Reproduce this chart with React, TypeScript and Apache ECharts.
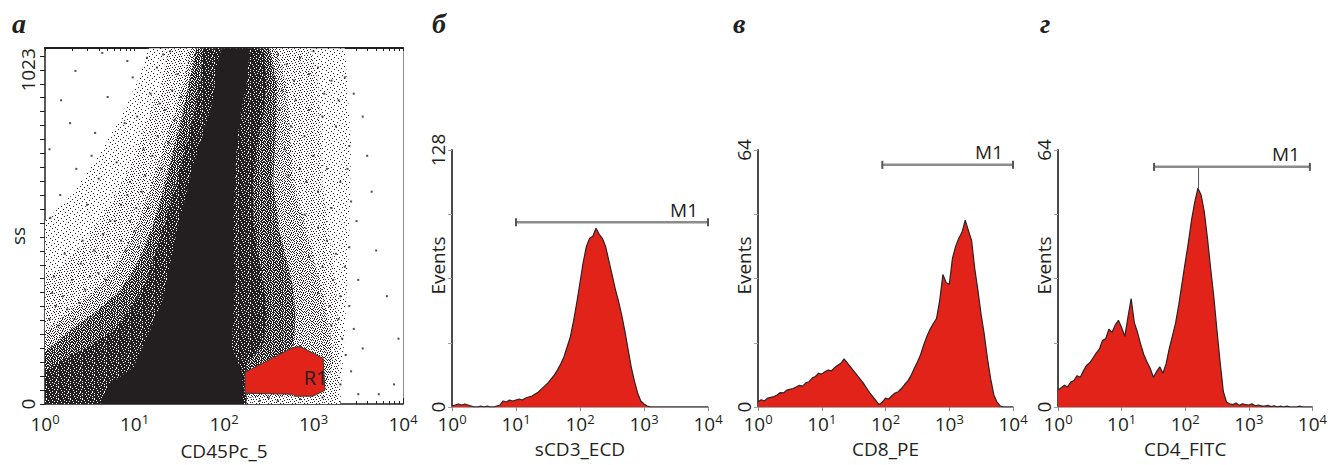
import { useEffect, useRef } from "react";
import * as echarts from "echarts";

const FONT = '"Open Sans", "Noto Sans", "DejaVu Sans", sans-serif';
const SERIF = '"Liberation Serif", "DejaVu Serif", serif';
const INK = "#231f20";
const RED = "#e2231a";
const TEXT_SIZE = 19;

// ---- axes / ticks ----
const DECADES = [0, 1, 2, 3, 4];
const MINOR_MULTIPLES = [2, 3, 4, 5, 6, 7, 8, 9];
const SS_LABELS = [0, 1023];
const SS_TICK_STEP = 1023 / 24;
const SS_TICK_COUNT = 26;
const CD3_Y_LABELS = [0, 128];
const CD8_Y_LABELS = [0, 64];
const CD4_Y_LABELS = [0, 64];

// ---- histograms: counts per bin, bins at log10 = 0.00, 0.05 ... 4.00 ----
const BIN_STEP = 0.05;
const CD3_COUNTS = [
  0.5, 1, 1.5, 1, 1.5, 1, 0.5, 0, 0, 0.5,
  0, 0.5, 0, 0, 0.5, 1, 3, 2.5, 3.5, 3,
  3.5, 4, 3.5, 4.5, 5, 5.5, 6.5, 7.5, 9, 10.5,
  12, 14, 16, 18.5, 21.5, 25, 30, 35, 43, 52,
  62, 72, 80, 84, 85, 89, 86, 84, 80, 73,
  66, 59, 53, 46, 38, 29, 20, 13, 7, 3,
  1.5, 0.5, 0, 0, 0, 0, 0, 0, 0, 0,
  0, 0, 0, 0, 0, 0, 0, 0, 0, 0, 0,
];
const CD8_COUNTS = [
  1.3, 1.8, 1.5, 2.2, 2.4, 2.6, 3.0, 3.6, 3.5, 4.2,
  4.4, 4.6, 5.0, 5.4, 5.2, 6.0, 6.3, 7.2, 7.6, 8.4,
  8.2, 8.8, 9.2, 9.0, 9.8, 10.4, 10.9, 12.0, 11.0, 10.0,
  9.0, 8.0, 7.0, 6.0, 4.8, 3.6, 2.6, 1.6, 0.6, 1.2,
  2.2, 2.0, 2.8, 3.5, 3.8, 4.6, 5.6, 6.5, 7.8, 9.6,
  11.2, 13.0, 15.5, 17.6, 19.4, 20.8, 22.0, 26.5, 33.0, 31.0,
  30.5, 37.0, 40.0, 42.0, 43.5, 46.5, 44.0, 41.5, 34.5, 29.0,
  23.0, 18.0, 12.0, 7.0, 3.0, 1.2, 0.2, 0, 0, 0, 0,
];
const CD4_COUNTS = [
  4.2, 4.8, 5.4, 5.0, 6.2, 6.6, 7.8, 7.4, 9.0, 10.4,
  11.0, 12.2, 13.4, 14.4, 16.6, 17.0, 19.4, 18.6, 20.4, 21.6,
  19.8, 17.6, 22.4, 27.0, 21.0, 18.6, 15.6, 13.0, 11.2, 9.6,
  7.4, 8.8, 10.0, 8.4, 10.8, 14.6, 17.8, 21.0, 25.6, 30.8,
  36.0, 41.0, 46.6, 51.0, 54.5, 52.8, 48.6, 42.0, 34.5, 27.4,
  19.0, 11.0, 3.8, 1.2, 0.8, 0.6, 1.0, 0.4, 0.8, 0.6,
  0.5, 0.8, 0.3, 0.5, 0.3, 0.2, 0.4, 0.1, 0.3, 0,
  0.2, 0, 0.2, 0, 0, 0, 0.2, 0, 0, 0, 0,
];
const CD4_SPIKE = [[2.21, 54.5], [2.21, 59.8]];

// M1 markers: [from log10, to log10, level]
const M1_CD3 = [1.0, 4.0, 92];
const M1_CD8 = [1.95, 4.0, 60.3];
const M1_CD4 = [1.51, 3.96, 59.8];

// ---- scatter panel (x: log10 CD45, y: SS channel), density contours ----
const CLOUD_HALO = [
  [0, 0], [0, 560], [0.3, 640], [0.6, 760], [0.85, 880], [1.05, 1000], [1.15, 1089],
  [3.35, 1089], [3.42, 800], [3.4, 500], [3.35, 224], [3.3, 0],
];
const CLOUD_LIGHT = [
  [0, 0], [0, 390], [0.27, 440], [0.5, 520], [0.75, 620], [0.95, 730], [1.12, 850],
  [1.27, 960], [1.38, 1089], [2.97, 1089], [3.05, 983], [3.08, 831], [3.1, 679],
  [3.17, 527], [3.25, 375], [3.28, 224], [3.3, 123], [3.25, 0],
];
const CLOUD_MEDIUM = [
  [0, 0], [0, 224], [0.242, 274], [0.54, 345], [0.8, 426], [0.987, 527],
  [1.136, 628], [1.285, 750], [1.434, 881], [1.546, 983], [1.62, 1089],
  [2.588, 1089], [2.7, 983], [2.737, 831], [2.775, 679], [2.924, 527],
  [3.073, 375], [3.184, 224], [3.22, 123], [3.13, 42], [2.8, 24], [2.24, 20], [2.22, 0],
];
const CLOUD_MEDDENSE = [
  [0, 0], [0, 160], [0.3, 230], [0.6, 290], [0.85, 350], [1.03, 430], [1.17, 520],
  [1.3, 630], [1.41, 750], [1.52, 870], [1.61, 983], [1.69, 1089],
  [2.51, 1089], [2.59, 983], [2.58, 831], [2.55, 679], [2.62, 527], [2.76, 375],
  [2.8, 274], [2.78, 183], [2.6, 123], [2.25, 100], [2.25, 0],
];
const CLOUD_DENSE = [
  [0, 0], [0, 102], [0.242, 143], [0.54, 183], [0.8, 234], [0.987, 305],
  [1.136, 375], [1.248, 477], [1.359, 578], [1.471, 679], [1.564, 780],
  [1.657, 881], [1.732, 983], [1.769, 1089], [2.44, 1089], [2.477, 983],
  [2.44, 881], [2.365, 780], [2.328, 679], [2.328, 578], [2.365, 477],
  [2.44, 375], [2.477, 274], [2.44, 183], [2.253, 123], [2.253, 0],
];
const CLOUD_CORE = [
  [0.615, 0], [0.726, 62], [0.987, 112], [1.173, 224], [1.322, 325],
  [1.397, 426], [1.471, 527], [1.564, 628], [1.657, 730], [1.769, 831],
  [1.881, 932], [1.918, 1033], [1.974, 1089], [2.29, 1089], [2.253, 983],
  [2.179, 881], [2.141, 780], [2.123, 679], [2.104, 578], [2.104, 477],
  [2.123, 375], [2.104, 274], [2.086, 173], [2.197, 102], [2.216, 41], [2.2, 0],
];
const SPARSE_EVENTS = [
  [0.34, 1020], [0.92, 1050], [0.98, 1000], [0.7, 940], [0.28, 860], [0.56, 830],
  [0.89, 860], [0.8, 740], [0.35, 720], [0.6, 690], [0.17, 640], [0.06, 570],
  [0.47, 610], [1.03, 880], [1.18, 950], [1.25, 1030], [1.32, 1070], [1.1, 780],
  [0.73, 560], [0.42, 500], [0.22, 460], [0.1, 390], [1.4, 1080], [1.14, 1060],
  [0.64, 1075], [1.28, 920], [0.95, 680], [0.52, 760], [0.18, 930], [0.05, 780],
  [0.4, 430], [0.55, 470], [0.65, 520], [0.78, 560], [0.85, 610], [0.92, 640],
  [0.3, 380], [0.2, 330], [0.12, 300], [0.45, 350], [0.6, 400], [0.7, 450],
  [0.95, 560], [1.02, 600], [1.08, 650], [1.12, 700], [1.2, 760], [1.26, 820],
  [1.34, 900], [1.42, 960], [1.48, 1010], [0.05, 260], [0.25, 290], [0.38, 310],
  [0.5, 390], [0.85, 500], [1.0, 530], [1.15, 600], [1.3, 720], [1.38, 800],
  [1.45, 870], [1.52, 940], [0.68, 380], [0.33, 260], [0.15, 240], [0.08, 340],
  [0.9, 470], [1.05, 480],
  [2.6, 1070], [2.7, 1040], [2.85, 1060], [2.95, 1010], [3.05, 1030], [3.2, 990],
  [3.35, 1000], [2.65, 960], [2.8, 930], [2.95, 900], [3.1, 880], [3.25, 850],
  [3.4, 790], [2.75, 850], [2.9, 820], [3.0, 760], [3.15, 720], [3.3, 680],
  [2.68, 780], [2.85, 720], [3.05, 650], [3.2, 600], [3.42, 620], [2.62, 900],
  [2.78, 990], [3.12, 950], [3.28, 930], [2.92, 680], [3.38, 720], [2.72, 700],
  [3.48, 560], [3.55, 880], [2.55, 1000], [3.0, 1080], [3.45, 950],
  [2.9, 580], [3.05, 540], [3.15, 500], [3.25, 460], [3.35, 420], [2.95, 450],
  [3.1, 420], [3.22, 380], [3.3, 330], [3.4, 300], [3.05, 340], [3.18, 300],
  [3.28, 260], [3.32, 200], [3.45, 230], [3.36, 150], [3.42, 100], [3.3, 60],
  [3.1, 20], [2.85, 15], [2.6, 10], [3.5, 30], [3.4, 480], [3.5, 380],
  [3.55, 170], [2.5, 18], [2.4, 10], [3.2, 240],
  [3.65, 650], [3.82, 330], [3.73, 30], [3.9, 60], [3.95, 200], [3.6, 760], [3.7, 470],
];
const GATE_R1 = [
  [2.235, 97], [2.771, 173], [2.849, 176], [3.106, 140], [3.128, 42],
  [2.994, 24], [2.793, 24], [2.771, 30], [2.235, 33],
];
const GATE_LABEL = { text: "R1", at: [2.89, 82] };

// stipple textures used to shade the density layers ('#' = event pixel)
const TILE_DENSE = [
  "##.#####.###", "#####.######", "###.####.#.#", "##########.#",
  ".###.#######", "######.##.##", "#.##########", "####.###.###",
  "##.#####.###", "#######.##.#", "#.##.#######", "######.###.#",
];
const TILE_MEDDENSE = [
  "##.##.#.###.", ".####.##.#.#", "#.#.###.##.#", "##.##.#.#.##",
  ".##.####.##.", "#.###.#.##.#", "##.#.###.###", ".###.#.##.#.",
  "#.#.###.###.", "##.##.##.#.#", ".#.###.#.###", "#.##.###.#.#",
];
const TILE_MEDIUM = [
  "#..#.#..#...", ".#....#..#.#", "..#.#...#...", "#.....#.#.#.",
  ".#.#.#.....#", "...#...#.#..", "#.#..#....#.", "..#.#..#.#..",
  ".#....#...#.", "#..#.#..#..#", ".#.....#.#..", "..#.#.#....#",
];
const TILE_LIGHTMED = [
  "#.....#.....", "...#......#.", ".......#....", ".#..#......#",
  "........#...", "..#...#.....", "#.........#.", "....#..#....",
  ".#.........#", "......#..#..", "..#.........", ".....#..#..#",
];
const TILE_LIGHT = [
  "....#.......", ".........#..", ".#..........", "......#.....",
  "..........#.", "...#........", "........#...", "#...........",
  ".....#......", "..........#.", "..#.........", ".......#....",
];

// ---------------------------------------------------------------------------
const ssTicks = Array.from({ length: SS_TICK_COUNT }, (_, k) => k * SS_TICK_STEP);
const minorTicks: number[] = [];
DECADES.slice(0, -1).forEach((d) => MINOR_MULTIPLES.forEach((m) => minorTicks.push(d + Math.log10(m))));

const binned = (counts: number[]) => counts.map((c, i) => [+(i * BIN_STEP).toFixed(2), c]);

function stipple(rows: string[], fallback: string): any {
  try {
    const c = document.createElement("canvas");
    c.width = rows[0].length;
    c.height = rows.length;
    const ctx = c.getContext("2d");
    if (!ctx) return fallback;
    ctx.fillStyle = "#ffffff";
    ctx.fillRect(0, 0, c.width, c.height);
    ctx.fillStyle = INK;
    rows.forEach((r, y) => r.split("").forEach((ch, x) => { if (ch === "#") ctx.fillRect(x, y, 1, 1); }));
    return { image: c.toDataURL("image/png"), repeat: "repeat", imageWidth: c.width, imageHeight: c.height };
  } catch (e) {
    return fallback;
  }
}

const supRich = {
  b: { fontSize: TEXT_SIZE, lineHeight: 24, fontFamily: FONT, color: INK },
  sup: { fontSize: 13, lineHeight: 13, verticalAlign: "top", fontFamily: FONT, color: INK },
};
const decadeLabel = (margin: number) => ({
  show: true,
  margin,
  formatter: (v: number) => `{b|10}{sup|${Math.round(v)}}`,
  rich: supRich,
});
const nameStyle = { fontFamily: FONT, fontSize: TEXT_SIZE, color: INK };
const plainLabel = (v: number) => String(v);

function histX(gridIndex: number, name: string) {
  return {
    type: "value", gridIndex, min: 0, max: 4, interval: 1, position: "bottom",
    axisLine: { show: true, onZero: false, lineStyle: { color: "#8a8a8a", width: 1.5 } },
    axisTick: { show: true, length: 4, lineStyle: { color: "#8a8a8a", width: 1 } },
    axisLabel: decadeLabel(5),
    splitLine: { show: false },
    name, nameLocation: "middle", nameGap: 32, nameMoveOverlap: false, nameTextStyle: nameStyle,
  };
}
function histY(gridIndex: number, max: number, labels: number[]) {
  return {
    type: "value", gridIndex, min: 0, max, interval: max / 4,
    axisLine: { show: true, onZero: false, lineStyle: { color: "#4a4a4a", width: 2 } },
    axisTick: { show: true, length: 4, lineStyle: { color: "#a0a0a0", width: 1 } },
    axisLabel: { customValues: labels, formatter: plainLabel, rotate: 90, margin: 5, fontFamily: FONT, fontSize: TEXT_SIZE, color: INK },
    splitLine: { show: false },
    name: "Events", nameLocation: "middle", nameGap: 5, nameMoveOverlap: false,
    nameTextStyle: { ...nameStyle, padding: [0, 0, 0, 26] },
  };
}
function histSeries(xi: number, yi: number, counts: number[]) {
  return {
    type: "line", xAxisIndex: xi, yAxisIndex: yi, data: binned(counts),
    showSymbol: false, symbol: "none", silent: true, z: 3,
    lineStyle: { color: "#2e2222", width: 1.2 },
    areaStyle: { color: RED, opacity: 1 },
  };
}
function markerSeries(xi: number, yi: number, m: number[]) {
  return {
    type: "custom", xAxisIndex: xi, yAxisIndex: yi, data: [0], silent: true, z: 5,
    renderItem: (_p: any, api: any) => {
      const a = api.coord([m[0], m[2]]);
      const b = api.coord([m[1], m[2]]);
      return {
        type: "group",
        children: [
          { type: "line", shape: { x1: a[0], y1: a[1], x2: b[0], y2: b[1] }, style: { stroke: "#8c8c8c", lineWidth: 2.5 } },
          { type: "line", shape: { x1: a[0], y1: a[1] - 4, x2: a[0], y2: a[1] + 4 }, style: { stroke: "#555", lineWidth: 2 } },
          { type: "line", shape: { x1: b[0], y1: b[1] - 4, x2: b[0], y2: b[1] + 4 }, style: { stroke: "#555", lineWidth: 2 } },
          {
            type: "text",
            style: { text: "M1", x: b[0] - 10, y: b[1] - 3, textAlign: "right", textVerticalAlign: "bottom", fontFamily: FONT, fontSize: TEXT_SIZE, fill: INK },
          },
        ],
      };
    },
  };
}
function cloudSeries(points: number[][], fill: any, z: number) {
  return {
    type: "custom", xAxisIndex: 0, yAxisIndex: 0, data: [0], silent: true, z,
    renderItem: (_p: any, api: any) => ({
      type: "polygon",
      shape: { points: points.map((p) => api.coord(p)) },
      style: { fill },
    }),
  };
}

function buildOption() {
  const letter = (text: string, x: number) => ({
    type: "text", x, y: 37,
    style: { text, fontFamily: SERIF, fontSize: 28, fontStyle: "italic", fontWeight: "bold", fill: INK, textVerticalAlign: "bottom" },
  });
  return {
    animation: false,
    backgroundColor: "#ffffff",
    grid: [
      { left: 45, top: 48, width: 358, height: 359 },
      { left: 452, top: 150, width: 256, height: 257 },
      { left: 758, top: 150, width: 255, height: 257 },
      { left: 1058, top: 150, width: 257, height: 257 },
    ],
    xAxis: [
      {
        type: "value", gridIndex: 0, min: 0, max: 4, interval: 1, position: "bottom",
        axisLine: { show: true, onZero: false, lineStyle: { color: INK, width: 1.5 } },
        axisTick: { show: true, inside: true, length: 6, lineStyle: { color: INK, width: 1 } },
        axisLabel: decadeLabel(8),
        splitLine: { show: false },
        name: "CD45Pc_5", nameLocation: "middle", nameGap: 37, nameMoveOverlap: false, nameTextStyle: nameStyle,
      },
      {
        type: "value", gridIndex: 0, min: 0, max: 4, position: "bottom",
        axisLine: { show: false },
        axisTick: { show: true, inside: true, length: 3, customValues: minorTicks, lineStyle: { color: INK, width: 1 } },
        axisLabel: { show: false }, splitLine: { show: false },
      },
      {
        type: "value", gridIndex: 0, min: 0, max: 4, position: "top",
        axisLine: { show: true, onZero: false, lineStyle: { color: INK, width: 2 } },
        axisTick: { show: true, inside: true, length: 3, customValues: [...DECADES, ...minorTicks], lineStyle: { color: INK, width: 1 } },
        axisLabel: { show: false }, splitLine: { show: false },
      },
      histX(1, "sCD3_ECD"),
      histX(2, "CD8_PE"),
      histX(3, "CD4_FITC"),
    ],
    yAxis: [
      {
        type: "value", gridIndex: 0, min: 0, max: 1090, position: "left",
        axisLine: { show: true, onZero: false, lineStyle: { color: INK, width: 1.5 } },
        axisTick: { show: true, length: 5, customValues: ssTicks, lineStyle: { color: INK, width: 1 } },
        axisLabel: { customValues: SS_LABELS, formatter: plainLabel, rotate: 90, margin: 8, fontFamily: FONT, fontSize: TEXT_SIZE, color: INK },
        splitLine: { show: false },
        name: "ss", nameLocation: "middle", nameGap: 18, nameMoveOverlap: false,
        nameTextStyle: { ...nameStyle, padding: [0, 20, 0, 0] },
      },
      {
        type: "value", gridIndex: 0, min: 0, max: 1090, position: "right",
        axisLine: { show: true, onZero: false, lineStyle: { color: "#8c8c8c", width: 1 } },
        axisTick: { show: false }, axisLabel: { show: false }, splitLine: { show: false },
      },
      histY(1, 128, CD3_Y_LABELS),
      histY(2, 64, CD8_Y_LABELS),
      histY(3, 64, CD4_Y_LABELS),
    ],
    graphic: [letter("а", 12), letter("б", 432), letter("в", 733), letter("г", 1040)],
    series: [
      cloudSeries(CLOUD_HALO, stipple(TILE_LIGHT, "#ededed"), 1),
      cloudSeries(CLOUD_LIGHT, stipple(TILE_LIGHTMED, "#d8d8d8"), 2),
      cloudSeries(CLOUD_MEDIUM, stipple(TILE_MEDIUM, "#b3b3b3"), 3),
      cloudSeries(CLOUD_MEDDENSE, stipple(TILE_MEDDENSE, "#7a7a7a"), 4),
      cloudSeries(CLOUD_DENSE, stipple(TILE_DENSE, "#505050"), 5),
      cloudSeries(CLOUD_CORE, INK, 6),
      {
        type: "scatter", xAxisIndex: 0, yAxisIndex: 0, data: SPARSE_EVENTS, silent: true, z: 7,
        symbol: "rect", symbolSize: 2, itemStyle: { color: INK },
      },
      {
        type: "custom", xAxisIndex: 0, yAxisIndex: 0, data: [0], silent: true, z: 8,
        renderItem: (_p: any, api: any) => {
          const at = api.coord(GATE_LABEL.at);
          return {
            type: "group",
            children: [
              { type: "polygon", shape: { points: GATE_R1.map((p) => api.coord(p)) }, style: { fill: RED, stroke: "#3a3a3a", lineWidth: 1 } },
              { type: "text", style: { text: GATE_LABEL.text, x: at[0], y: at[1], textAlign: "left", textVerticalAlign: "middle", fontFamily: FONT, fontSize: 20, fill: INK } },
            ],
          };
        },
      },
      histSeries(3, 2, CD3_COUNTS),
      histSeries(4, 3, CD8_COUNTS),
      histSeries(5, 4, CD4_COUNTS),
      {
        type: "line", xAxisIndex: 5, yAxisIndex: 4, data: CD4_SPIKE, showSymbol: false, symbol: "none", silent: true, z: 4,
        lineStyle: { color: "#555", width: 1 },
      },
      markerSeries(3, 2, M1_CD3),
      markerSeries(4, 3, M1_CD8),
      markerSeries(5, 4, M1_CD4),
    ],
  };
}

export default function App() {
  const ref = useRef<HTMLDivElement>(null);
  useEffect(() => {
    document.body.style.margin = "0";
    if (!ref.current) return;
    const chart = echarts.init(ref.current, null, { renderer: "svg" });
    chart.setOption(buildOption() as any);
    return () => chart.dispose();
  }, []);
  return <div ref={ref} style={{ position: "fixed", left: 0, top: 0, width: 1330, height: 465, background: "#fff" }} />;
}
